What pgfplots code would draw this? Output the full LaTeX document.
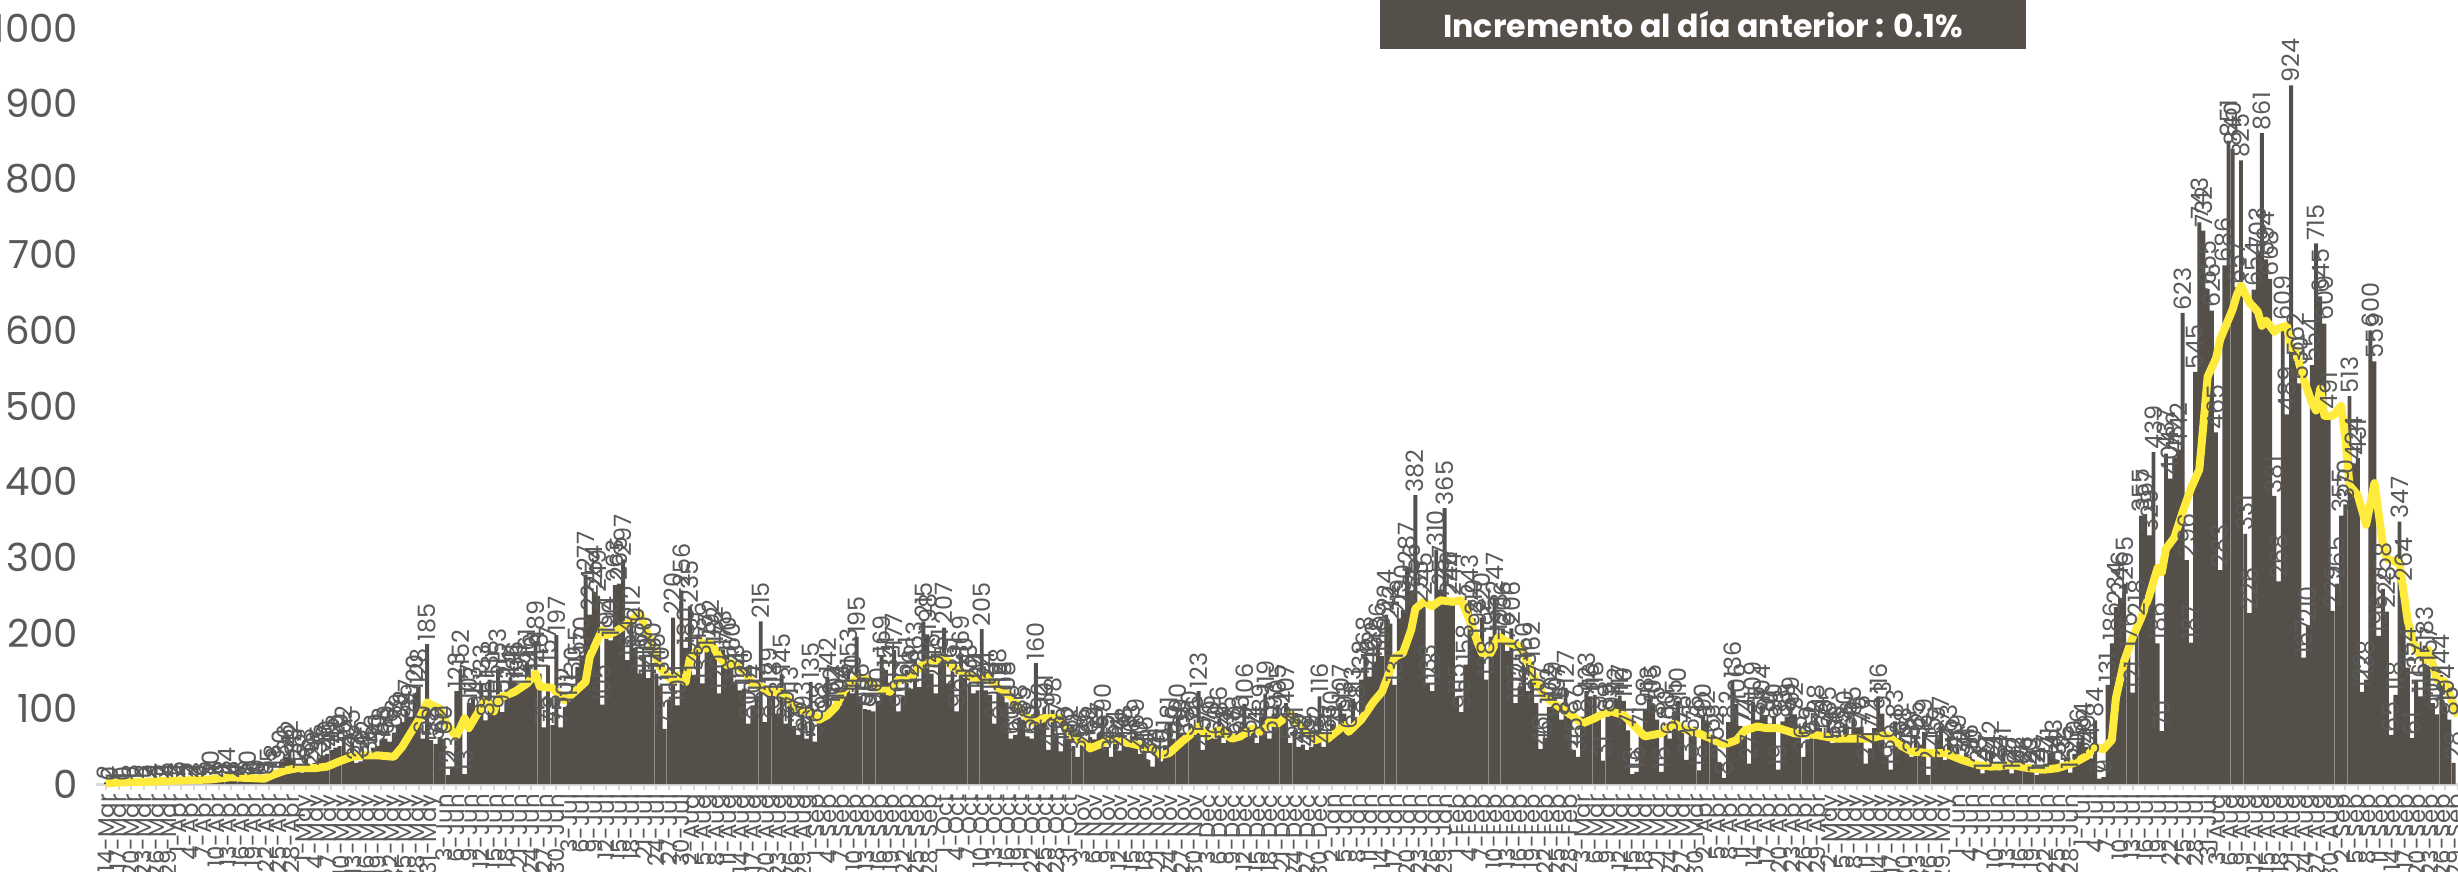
\documentclass[border=0pt]{standalone}
\usepackage{fontspec}
\setmainfont{Poppins}
\usepackage{pgfplots}
\pgfplotsset{compat=1.18}
\usepackage{pgfplotstable}
\usepackage{pgfcalendar}

\definecolor{barcol}{RGB}{84,79,73}
\definecolor{avgcol}{RGB}{255,235,59}
\definecolor{txtgray}{RGB}{89,89,89}
\definecolor{axgray}{RGB}{217,217,217}

% day 0 = 14-Mar-2020
\newcount\startjd
\pgfcalendardatetojulian{2020-03-14}{\startjd}
\edef\startday{\the\startjd}
\newcommand\daylabel{%
  \pgfmathtruncatemacro\ti{round(\tick)}%
  \edef\jd{\the\numexpr\startday+\ti\relax}%
  \pgfcalendarjuliantodate{\jd}{\lY}{\lM}{\lD}%
  \number\lD-\pgfcalendarmonthshortname{\number\lM}}

% daily values, one per day from 14-Mar-2020
\pgfplotstableread[row sep=\\]{
v\\
2\\0\\1\\1\\0\\1\\3\\2\\1\\3\\
2\\4\\3\\2\\5\\4\\3\\6\\4\\5\\
7\\4\\3\\6\\5\\10\\6\\4\\8\\14\\
6\\4\\8\\5\\10\\6\\9\\6\\8\\15\\
18\\13\\30\\36\\42\\33\\25\\15\\33\\20\\
28\\35\\38\\40\\45\\48\\50\\62\\42\\55\\
28\\30\\42\\35\\48\\50\\58\\60\\56\\68\\
79\\82\\97\\89\\120\\128\\60\\185\\58\\53\\
62\\60\\12\\23\\123\\152\\13\\107\\113\\94\\
133\\84\\138\\105\\153\\95\\125\\141\\136\\133\\
125\\161\\146\\189\\146\\75\\157\\78\\197\\75\\
102\\111\\130\\155\\170\\277\\224\\254\\249\\105\\
194\\190\\263\\265\\297\\164\\212\\180\\146\\170\\
140\\160\\146\\130\\73\\111\\220\\104\\256\\180\\
235\\144\\186\\133\\177\\192\\182\\120\\178\\170\\
160\\133\\124\\126\\80\\104\\117\\215\\82\\129\\
118\\93\\145\\80\\113\\77\\65\\93\\60\\135\\
56\\88\\93\\142\\102\\107\\104\\116\\153\\120\\
195\\116\\99\\98\\96\\110\\169\\151\\134\\177\\
96\\116\\151\\126\\163\\128\\215\\198\\146\\120\\
161\\207\\133\\151\\96\\169\\140\\133\\120\\124\\
205\\124\\118\\80\\128\\118\\108\\60\\65\\88\\
85\\63\\60\\160\\92\\101\\45\\98\\67\\43\\
58\\62\\50\\36\\56\\49\\62\\59\\67\\90\\
49\\36\\54\\44\\58\\49\\63\\69\\40\\46\\
32\\23\\41\\30\\51\\81\\60\\90\\68\\58\\
80\\76\\123\\45\\76\\70\\60\\86\\54\\75\\
58\\60\\76\\106\\62\\71\\54\\89\\119\\60\\
93\\105\\82\\107\\54\\71\\49\\52\\45\\49\\
62\\116\\49\\63\\80\\71\\107\\93\\69\\113\\
88\\138\\168\\142\\162\\186\\169\\224\\212\\131\\
219\\230\\287\\256\\382\\235\\245\\133\\123\\310\\
257\\365\\246\\244\\115\\95\\158\\243\\219\\193\\
220\\138\\195\\247\\198\\206\\176\\206\\107\\129\\
160\\123\\162\\107\\46\\61\\102\\109\\107\\85\\
127\\87\\45\\36\\89\\123\\116\\118\\93\\31\\
89\\92\\112\\117\\110\\71\\13\\16\\71\\98\\
113\\105\\85\\16\\80\\60\\95\\110\\76\\32\\
63\\76\\18\\90\\82\\63\\52\\27\\8\\82\\
136\\106\\77\\74\\27\\109\\85\\104\\91\\80\\
90\\19\\83\\89\\99\\92\\67\\36\\59\\62\\
88\\74\\68\\85\\54\\60\\55\\80\\66\\85\\
75\\76\\27\\47\\74\\116\\93\\36\\19\\83\\
61\\58\\45\\36\\65\\52\\69\\12\\45\\59\\
77\\32\\63\\40\\49\\32\\41\\36\\30\\23\\
14\\27\\42\\23\\18\\41\\27\\14\\22\\19\\
23\\20\\23\\12\\14\\27\\41\\43\\32\\23\\
35\\15\\40\\56\\64\\49\\34\\84\\7\\9\\
131\\186\\234\\246\\265\\176\\121\\218\\355\\357\\
329\\439\\186\\70\\437\\404\\432\\442\\623\\296\\
187\\545\\743\\732\\655\\626\\465\\283\\686\\851\\
840\\657\\825\\331\\226\\654\\703\\861\\694\\668\\
381\\268\\609\\489\\924\\562\\530\\167\\210\\554\\
715\\645\\609\\491\\229\\265\\355\\370\\513\\424\\
431\\122\\138\\600\\559\\196\\258\\228\\65\\118\\
347\\264\\154\\61\\137\\116\\183\\157\\107\\92\\
144\\104\\85\\28\\
}\bardata

\begin{document}
\begin{tikzpicture}
\begin{axis}[
  at={(0,0)}, anchor=south west,
  scale only axis,
  width=237.06mm, height=78.4mm,
  xmin=-2.5, xmax=566, ymin=0, ymax=1037,
  clip=false,
  axis lines*=left,
  y axis line style={draw=none},
  x axis line style={draw=axgray, line width=0.3mm},
  ytick={0,100,...,1000},
  ytick style={draw=none},
  xtick={0,3,...,563},
  xtick style={draw=axgray, line width=0.2mm},
  tick align=outside,
  major tick length=0.6mm,
  xticklabel=\daylabel,
  xticklabel style={rotate=90, anchor=east, font=\fontsize{6.5}{7}\selectfont, text=txtgray, inner sep=1pt},
  yticklabel style={font=\fontsize{11}{12}\selectfont, text=txtgray, xshift=0.1mm},
  /pgf/number format/assume math mode=true,
  /pgf/number format/1000 sep={},
]
% daily bars with their values
\addplot[ybar, bar width=0.39mm, fill=barcol, draw=none,
  nodes near coords,
  every node near coord/.append style={rotate=90, anchor=west,
    font=\fontsize{6.8}{7}\selectfont, text=txtgray, inner sep=0.6pt}]
  table[x expr=\coordindex, y=v] {\bardata};
% moving average
\addplot[avgcol, line width=0.8mm, line join=round, no marks] coordinates {
(0,1)(3,2)(10,3)(14,4)(20,5)(25,6)(30,9)(34,8)(38,7)(40,12)(43,18)(46,21)
(50,21)(53,23)(56,30)(59,36)(62,38)(65,38)(69,36)(71,49)(73,67)(75,85)
(77,108)(79,102)(80,100)(82,76)(84,63)(86,87)(87,74)(91,111)(93,96)(94,113)
(98,122)(101,133)(103,146)(104,129)(107,127)(110,111)(112,120)(115,135)
(116,168)(119,204)(120,197)(122,201)(125,212)(126,217)(128,226)(131,182)
(133,153)(136,135)(137,144)(139,135)(140,166)(141,171)(143,188)(144,179)
(145,188)(147,168)(149,157)(150,160)(153,149)(155,133)(157,129)(159,122)
(162,122)(164,109)(166,98)(169,96)(171,85)(173,91)(175,102)(177,124)
(180,140)(182,140)(185,127)(188,122)(190,138)(193,140)(195,155)(197,160)
(201,168)(203,155)(206,146)(209,138)(211,142)(214,127)(217,116)(219,100)
(222,82)(225,87)(229,87)(231,65)(235,54)(236,47)(239,54)(241,60)(244,56)
(247,52)(251,47)(253,38)(255,41)(258,56)(260,65)(262,76)(264,63)(267,71)
(270,60)(272,63)(275,74)(277,69)(279,82)(281,80)(284,93)(287,74)(290,58)
(292,62)(293,60)(297,78)(298,69)(301,85)(304,109)(306,122)(308,151)
(309,168)(311,173)(313,204)(314,232)(316,241)(318,235)(320,243)(323,241)
(325,243)(327,217)(329,186)(330,173)(332,173)(334,195)(336,188)(339,182)
(341,160)(343,135)(345,116)(349,100)(352,89)(354,80)(357,87)(359,93)
(361,96)(364,91)(367,74)(369,63)(373,67)(376,80)(379,71)(381,69)(385,60)
(388,52)(391,58)(393,71)(396,76)(398,74)(401,74)(405,67)(410,65)(415,60)
(420,60)(423,60)(425,63)(427,65)(430,52)(433,43)(437,41)(441,41)(445,32)
(449,25)(452,23)(457,25)(461,21)(465,19)(468,21)(472,28)(475,37)(477,49)
(479,46)(481,58)(482,114)(484,163)(486,194)(488,219)(490,249)(492,286)
(493,280)(494,311)(496,326)(498,360)(500,391)(502,416)(503,477)(504,539)
(506,563)(507,588)(510,628)(511,647)(512,659)(514,637)(516,625)(517,606)
(518,613)(520,598)(521,603)(523,606)(524,577)(525,574)(527,536)(529,504)
(530,494)(531,523)(532,487)(534,487)(536,500)(537,459)(538,395)(540,382)
(542,343)(544,398)(546,318)(547,298)(550,292)(552,215)(554,177)(556,164)
(557,177)(559,138)(561,135)(563,103)(564,90)
};
\end{axis}
% banner
\fill[barcol] (128.44mm,73.5mm) rectangle (193.04mm,78.4mm);
\node[text=white, font=\fontsize{9}{10}\selectfont\bfseries, inner sep=0pt]
  at (160.74mm,75.95mm) {Incremento al día anterior : 0.1\%};
\pgfresetboundingbox
\path[use as bounding box] (-9.56mm,-8.7mm) rectangle (236.24mm,78.4mm);
\end{tikzpicture}
\end{document}
